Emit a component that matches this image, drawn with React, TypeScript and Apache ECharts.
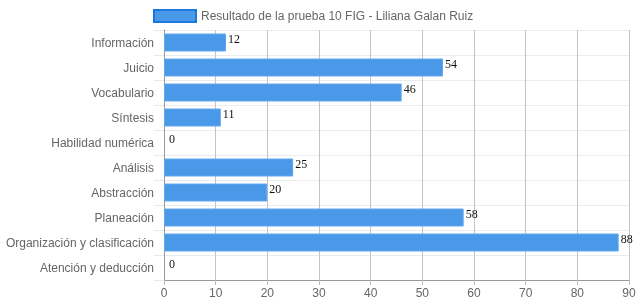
import React, { useEffect, useRef } from "react";
import * as echarts from "echarts";

const categories = [
  "Información",
  "Juicio",
  "Vocabulario",
  "Síntesis",
  "Habilidad numérica",
  "Análisis",
  "Abstracción",
  "Planeación",
  "Organización y clasificación",
  "Atención y deducción",
];
const values = [12, 54, 46, 11, 0, 25, 20, 58, 88, 0];
const seriesName = "Resultado de la prueba 10 FIG - Liliana Galan Ruiz";

export default function App() {
  const ref = useRef<HTMLDivElement>(null);
  useEffect(() => {
    const chart = echarts.init(ref.current!, null, { renderer: "svg" });
    chart.setOption({
      animation: false,
      legend: {
        left: 148,
        top: 4,
        itemWidth: 42,
        itemHeight: 12,
        itemGap: 10,
        icon: "rect",
        data: [seriesName],
        textStyle: { color: "#666", fontSize: 12, fontFamily: "Liberation Sans" },
        itemStyle: { color: "#4a98e8", borderColor: "#1c78e0", borderWidth: 2 },
      },
      grid: { left: 164, right: 10, top: 30, bottom: 28 },
      xAxis: {
        type: "value",
        min: 0,
        max: 90,
        interval: 10,
        axisLine: { show: true, lineStyle: { color: "#999" } },
        axisTick: { show: true, length: 5, lineStyle: { color: "#bbb" } },
        splitLine: { show: true, lineStyle: { color: "#c4c4c4" } },
        axisLabel: { color: "#666", fontSize: 12, fontFamily: "Liberation Sans", margin: 7 },
      },
      yAxis: {
        type: "category",
        data: categories,
        inverse: true,
        axisLine: { show: true, lineStyle: { color: "#999" } },
        axisTick: { show: true, length: 10, lineStyle: { color: "#e8e8e8" } },
        splitLine: { show: true, lineStyle: { color: "#ececec" } },
        axisLabel: { color: "#666", fontSize: 12, fontFamily: "Liberation Sans", margin: 10 },
      },
      series: [
        {
          name: seriesName,
          type: "bar",
          data: values.map((v) =>
            v === 0
              ? { value: v, itemStyle: { borderWidth: 0 }, label: { distance: 5 } }
              : v
          ),
          barWidth: 18,
          itemStyle: { color: "#4a98e8", borderColor: "#62a8ef", borderWidth: 1 },
          label: {
            show: true,
            position: "right",
            distance: 2,
            offset: [0, -4],
            color: "#111",
            fontSize: 12,
            fontFamily: "Liberation Serif",
          },
        },
      ],
    });
    return () => chart.dispose();
  }, []);
  return (
    <div
      ref={ref}
      style={{ position: "fixed", left: 0, top: 0, width: 639, height: 308 }}
    />
  );
}
